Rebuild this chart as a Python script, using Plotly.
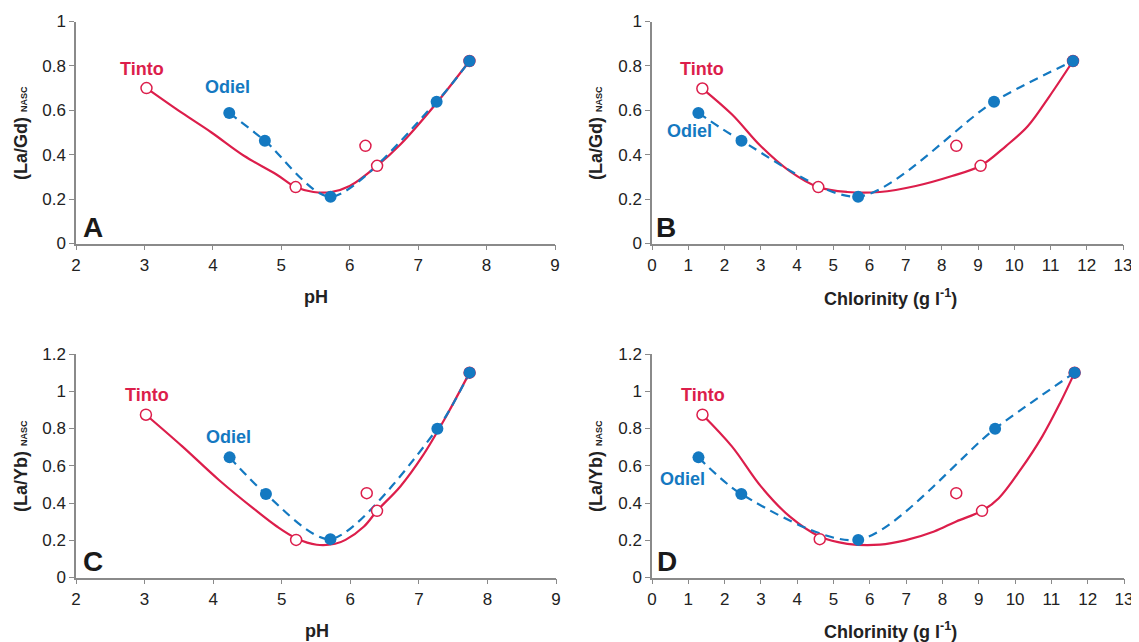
import plotly.graph_objects as go

# ---------------- data ----------------
# Panel A: (La/Gd)NASC vs pH
A_tinto_x = [3.03, 5.21, 6.23, 6.40, 7.75]
A_tinto_y = [0.70, 0.254, 0.44, 0.35, 0.822]
A_tinto_curve_x = [3.03, 3.55, 3.98, 4.46, 4.93, 5.21, 5.47, 5.73, 6.00, 6.40, 6.74, 7.27, 7.75]
A_tinto_curve_y = [0.70, 0.588, 0.50, 0.394, 0.311, 0.254, 0.232, 0.232, 0.259, 0.35, 0.446, 0.633, 0.822]
A_odiel_x = [4.24, 4.76, 5.72, 7.27, 7.75]
A_odiel_y = [0.588, 0.463, 0.211, 0.639, 0.822]

# Panel B: (La/Gd)NASC vs chlorinity
B_tinto_x = [1.39, 4.59, 8.40, 9.07, 11.62]
B_tinto_y = [0.698, 0.254, 0.44, 0.35, 0.822]
B_tinto_curve_x = [1.39, 2.21, 3.00, 3.80, 4.59, 5.39, 6.29, 7.28, 8.28, 9.07, 9.77, 10.37, 10.97, 11.62]
B_tinto_curve_y = [0.698, 0.581, 0.439, 0.326, 0.254, 0.232, 0.232, 0.259, 0.304, 0.35, 0.439, 0.528, 0.663, 0.822]
B_odiel_x = [1.28, 2.47, 5.69, 9.44, 11.62]
B_odiel_y = [0.588, 0.463, 0.211, 0.639, 0.822]

# Panel C: (La/Yb)NASC vs pH
C_tinto_x = [3.02, 5.21, 6.24, 6.39, 7.74]
C_tinto_y = [0.874, 0.202, 0.453, 0.358, 1.10]
C_tinto_curve_x = [3.02, 3.55, 4.08, 4.61, 4.93, 5.21, 5.51, 5.78, 5.93, 6.20, 6.39, 6.73, 7.05, 7.37, 7.74]
C_tinto_curve_y = [0.874, 0.704, 0.525, 0.364, 0.274, 0.211, 0.176, 0.181, 0.202, 0.274, 0.358, 0.489, 0.650, 0.847, 1.10]
C_odiel_x = [4.24, 4.77, 5.71, 7.27, 7.74]
C_odiel_y = [0.645, 0.448, 0.206, 0.799, 1.10]

# Panel D: (La/Yb)NASC vs chlorinity
D_tinto_x = [1.39, 4.62, 8.38, 9.09, 11.64]
D_tinto_y = [0.874, 0.206, 0.453, 0.358, 1.10]
D_tinto_curve_x = [1.39, 2.20, 3.00, 3.79, 4.62, 5.38, 6.28, 6.97, 7.77, 8.38, 9.09, 9.55, 10.15, 10.75, 11.24, 11.64]
D_tinto_curve_y = [0.874, 0.704, 0.489, 0.328, 0.220, 0.181, 0.176, 0.199, 0.247, 0.301, 0.358, 0.426, 0.579, 0.758, 0.937, 1.10]
D_odiel_x = [1.28, 2.46, 5.68, 9.45, 11.64]
D_odiel_y = [0.645, 0.448, 0.202, 0.799, 1.10]

ph_ticks = [2, 3, 4, 5, 6, 7, 8, 9]
chl_ticks = list(range(0, 14))
gd_ticks = [0, 0.2, 0.4, 0.6, 0.8, 1]
yb_ticks = [0, 0.2, 0.4, 0.6, 0.8, 1, 1.2]

panel_letters = ["A", "B", "C", "D"]

# ---------------- style ----------------
TINTO = "#DC1E4B"
ODIEL = "#1479C1"
AXIS = "#8a8a8a"
TXT = "#222222"
FONT = "Liberation Sans, Arial, sans-serif"

# the page body adds an 8px margin, so the figure is drawn 8px smaller and offset
OFF = 8
W, H = 1139 - OFF, 642 - OFF
def px_x(p):
    return (p - OFF) / W
def px_y(p):
    return 1 - (p - OFF) / H

dom = {
    1: dict(x=[px_x(76), px_x(555)], y=[px_y(243.5), px_y(21.5)]),
    2: dict(x=[px_x(652), px_x(1123)], y=[px_y(243.5), px_y(21.5)]),
    3: dict(x=[px_x(76), px_x(556)], y=[px_y(577.5), px_y(354)]),
    4: dict(x=[px_x(652), px_x(1124)], y=[px_y(577.5), px_y(354)]),
}

panels = [
    dict(tx=A_tinto_x, ty=A_tinto_y, cx=A_tinto_curve_x, cy=A_tinto_curve_y, ox=A_odiel_x, oy=A_odiel_y,
         xr=[2, 9], xt=ph_ticks, yr=[0, 1], yt=gd_ticks),
    dict(tx=B_tinto_x, ty=B_tinto_y, cx=B_tinto_curve_x, cy=B_tinto_curve_y, ox=B_odiel_x, oy=B_odiel_y,
         xr=[0, 13], xt=chl_ticks, yr=[0, 1], yt=gd_ticks),
    dict(tx=C_tinto_x, ty=C_tinto_y, cx=C_tinto_curve_x, cy=C_tinto_curve_y, ox=C_odiel_x, oy=C_odiel_y,
         xr=[2, 9], xt=ph_ticks, yr=[0, 1.2], yt=yb_ticks),
    dict(tx=D_tinto_x, ty=D_tinto_y, cx=D_tinto_curve_x, cy=D_tinto_curve_y, ox=D_odiel_x, oy=D_odiel_y,
         xr=[0, 13], xt=chl_ticks, yr=[0, 1.2], yt=yb_ticks),
]

fig = go.Figure()
layout = dict(
    width=W, height=H, margin=dict(l=0, r=0, t=0, b=0, autoexpand=False),
    paper_bgcolor="white", plot_bgcolor="white", showlegend=False,
    font=dict(family=FONT, color=TXT, size=17),
)
annotations = []

for i, p in enumerate(panels, start=1):
    xa = "x" if i == 1 else f"x{i}"
    ya = "y" if i == 1 else f"y{i}"
    fig.add_trace(go.Scatter(x=p["cx"], y=p["cy"], mode="lines", xaxis=xa, yaxis=ya,
                             line=dict(color=TINTO, width=2.2, shape="spline", smoothing=1.0),
                             hoverinfo="skip"))
    fig.add_trace(go.Scatter(x=p["ox"], y=p["oy"], mode="lines", xaxis=xa, yaxis=ya,
                             line=dict(color=ODIEL, width=2.2, dash="9px,6px", shape="spline", smoothing=0.8),
                             hoverinfo="skip"))
    fig.add_trace(go.Scatter(x=p["tx"], y=p["ty"], mode="markers", xaxis=xa, yaxis=ya, name="Tinto",
                             marker=dict(symbol="circle", size=11, color="white",
                                         line=dict(color=TINTO, width=1.5))))
    fig.add_trace(go.Scatter(x=p["ox"], y=p["oy"], mode="markers", xaxis=xa, yaxis=ya, name="Odiel",
                             marker=dict(symbol="circle", size=12, color=ODIEL,
                                         line=dict(color=ODIEL, width=0))))

    xkey = "xaxis" if i == 1 else f"xaxis{i}"
    ykey = "yaxis" if i == 1 else f"yaxis{i}"
    common = dict(showgrid=False, zeroline=False, showline=True, linecolor=AXIS, linewidth=1.5,
                  ticks="outside", ticklen=5, tickcolor=AXIS, tickwidth=1.2, automargin=False,
                  tickfont=dict(size=17, color=TXT, family=FONT), fixedrange=True)
    layout[xkey] = dict(domain=dom[i]["x"], anchor=ya, range=p["xr"], tickvals=p["xt"], **common)
    layout[ykey] = dict(domain=dom[i]["y"], anchor=xa, range=p["yr"], tickvals=p["yt"], **common)

# axis titles
xtitles = [
    ("pH", 316, 297), ("Chlorinity (g l<sup>-1</sup>)", 890, 297),
    ("pH", 317, 631), ("Chlorinity (g l<sup>-1</sup>)", 890, 630),
]
for t, x, y in xtitles:
    annotations.append(dict(text=f"<b>{t}</b>", x=px_x(x), y=px_y(y), xref="paper", yref="paper",
                            xanchor="center", yanchor="middle", showarrow=False,
                            font=dict(size=18, color=TXT, family=FONT)))
ytitles = [
    ("(La/Gd)", 21, 133), ("(La/Gd)", 596, 133),
    ("(La/Yb)", 21, 466), ("(La/Yb)", 596, 466),
]
for t, x, y in ytitles:
    annotations.append(dict(text=f"<b>{t} <span style='font-size:9px'>NASC</span></b>",
                            x=px_x(x), y=px_y(y), xref="paper", yref="paper", textangle=-90,
                            xanchor="center", yanchor="middle", showarrow=False,
                            font=dict(size=18, color=TXT, family=FONT)))

# series labels (data coordinates)
labels = [
    ("x", "y", 2.96, 0.784, 4.22, 0.703),
    ("x2", "y2", 1.39, 0.788, 1.04, 0.505),
    ("x3", "y3", 3.03, 0.981, 4.22, 0.756),
    ("x4", "y4", 1.41, 0.981, 0.84, 0.53),
]
for xr, yr, tx, ty, ox, oy in labels:
    annotations.append(dict(text="<b>Tinto</b>", x=tx, y=ty, xref=xr, yref=yr, showarrow=False,
                            xanchor="center", yanchor="middle", font=dict(size=18, color=TINTO, family=FONT)))
    annotations.append(dict(text="<b>Odiel</b>", x=ox, y=oy, xref=xr, yref=yr, showarrow=False,
                            xanchor="center", yanchor="middle", font=dict(size=18, color=ODIEL, family=FONT)))

# panel letters
letter_pos = [("x", "y", 2.25, 0.072), ("x2", "y2", 0.40, 0.072), ("x3", "y3", 2.25, 0.084), ("x4", "y4", 0.40, 0.084)]
for letter, (xr, yr, lx, ly) in zip(panel_letters, letter_pos):
    annotations.append(dict(text=f"<b>{letter}</b>", x=lx, y=ly, xref=xr, yref=yr, showarrow=False,
                            xanchor="center", yanchor="middle", font=dict(size=28, color="#1a1a1a", family=FONT)))

layout["annotations"] = annotations
fig.update_layout(**layout)
fig.write_html("out.html")
